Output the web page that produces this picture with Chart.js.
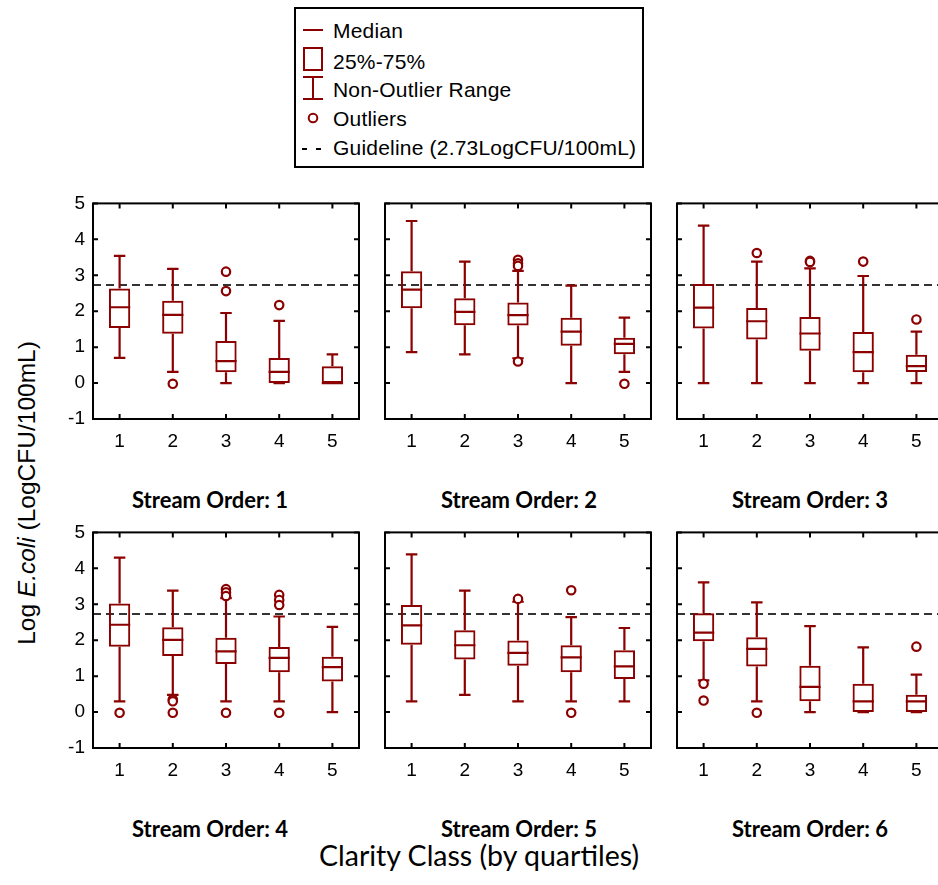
<!DOCTYPE html>
<html>
<head>
<meta charset="utf-8">
<script src="https://cdn.jsdelivr.net/npm/chart.js@4.4.0/dist/chart.umd.min.js"></script>
<style>
  html, body { margin: 0; padding: 0; background: #fff; width: 938px; height: 885px; overflow: hidden; position: relative; }
  canvas { position: absolute; }
  .t { position: absolute; white-space: nowrap; line-height: 1; color: #000; }
  .title { font-family: Lato, 'Open Sans', sans-serif; font-weight: bold; font-size: 22px; transform: translate(-50%, -50%); }
  .leg { font-family: 'Liberation Sans', Arial, sans-serif; font-size: 21px; transform: translate(0, -50%); letter-spacing: 0.2px; }
  #legendBox { position: absolute; left: 294px; top: 7px; width: 350px; height: 161px; border: 2px solid #000; box-sizing: border-box; }
  #xTitle { left: 479px; top: 855px; font-family: Lato, 'Open Sans', sans-serif; font-size: 28.5px; transform: translate(-50%, -50%); }
  #yTitle { left: 27px; top: 493px; font-family: 'Liberation Sans', Arial, sans-serif; font-size: 24.5px; transform: translate(-50%, -50%) rotate(-90deg); }
</style>
</head>
<body>

<div id="legendBox"></div>
<svg style="position:absolute;left:0;top:0" width="938" height="175">
  <g stroke="#8b0000" stroke-width="2" fill="none">
    <line x1="303" y1="30" x2="323" y2="30"/>
    <rect x="304" y="48" width="18" height="22"/>
    <line x1="303" y1="77" x2="323" y2="77"/>
    <line x1="313" y1="77" x2="313" y2="99"/>
    <line x1="303" y1="99" x2="323" y2="99"/>
    <circle cx="313" cy="118" r="4.3"/>
  </g>
  <g stroke="#000" stroke-width="2">
    <line x1="302" y1="149" x2="307" y2="149"/>
    <line x1="316" y1="149" x2="321" y2="149"/>
  </g>
</svg>
<div class="t leg" style="left:333px;top:30px">Median</div>
<div class="t leg" style="left:333px;top:61px">25%-75%</div>
<div class="t leg" style="left:333px;top:89px">Non-Outlier Range</div>
<div class="t leg" style="left:333px;top:118px">Outliers</div>
<div class="t leg" style="left:333px;top:147px">Guideline (2.73LogCFU/100mL)</div>

<div id="xTitle" class="t">Clarity Class (by quartiles)</div>
<div id="yTitle" class="t">Log <i>E.coli</i> (LogCFU/100mL)</div>

<script>
// clarity classes on every panel
const categories = ['1', '2', '3', '4', '5'];
const panelTitles = ['Stream Order: 1', 'Stream Order: 2', 'Stream Order: 3',
                     'Stream Order: 4', 'Stream Order: 5', 'Stream Order: 6'];
const guideline = 2.73;

// one row per stream order, one value per clarity class
const whiskerLow = [
  [0.70, 0.31, 0.00, 0.00, 0.00],
  [0.86, 0.80, 0.69, 0.00, 0.31],
  [0.00, 0.00, 0.00, 0.00, 0.00],
  [0.30, 0.48, 0.30, 0.30, 0.00],
  [0.30, 0.48, 0.30, 0.30, 0.30],
  [0.88, 0.30, 0.00, 0.00, 0.00]
];
const q1 = [
  [1.53, 1.37, 0.30, 0.00, 0.00],
  [2.08, 1.61, 1.60, 1.04, 0.80],
  [1.52, 1.21, 0.90, 0.30, 0.31],
  [1.82, 1.56, 1.34, 1.11, 0.85],
  [1.87, 1.46, 1.29, 1.11, 0.92],
  [1.97, 1.27, 0.30, 0.00, 0.00]
];
const medians = [
  [2.11, 1.90, 0.61, 0.31, 0.00],
  [2.60, 1.98, 1.89, 1.43, 1.09],
  [2.10, 1.72, 1.38, 0.86, 0.47],
  [2.43, 2.01, 1.69, 1.51, 1.25],
  [2.41, 1.86, 1.65, 1.52, 1.27],
  [2.21, 1.76, 0.70, 0.30, 0.30]
];
const q3 = [
  [2.63, 2.29, 1.17, 0.70, 0.47],
  [3.11, 2.36, 2.24, 1.82, 1.26],
  [2.76, 2.09, 1.84, 1.42, 0.79],
  [3.02, 2.36, 2.07, 1.81, 1.54],
  [2.98, 2.28, 1.99, 1.86, 1.72],
  [2.75, 2.08, 1.29, 0.79, 0.48]
];
const whiskerHigh = [
  [3.54, 3.18, 1.95, 1.73, 0.80],
  [4.51, 3.38, 3.12, 2.71, 1.82],
  [4.38, 3.38, 3.19, 2.98, 1.43],
  [4.30, 3.38, 3.17, 2.66, 2.37],
  [4.39, 3.38, 3.07, 2.64, 2.34],
  [3.61, 3.05, 2.39, 1.80, 1.04]
];
// [class, value]
const outliers = [
  [['2', -0.02], ['3', 3.10], ['3', 2.56], ['4', 2.17]],
  [['3', 3.43], ['3', 3.33], ['3', 3.26], ['3', 0.60], ['5', -0.02]],
  [['2', 3.62], ['3', 3.40], ['3', 3.37], ['4', 3.38], ['5', 1.77]],
  [['1', -0.02], ['2', 0.35], ['2', 0.30], ['2', -0.02], ['3', 3.42], ['3', 3.33], ['3', 3.23], ['3', -0.02],
   ['4', 3.26], ['4', 3.12], ['4', 2.98], ['4', -0.02]],
  [['3', 3.15], ['4', 3.39], ['4', -0.02]],
  [['1', 0.79], ['1', 0.32], ['2', -0.02], ['5', 1.82]]
];

// layout
const RED = '#8b0000';
const panelLeft = [93, 385, 677];
const panelTop = [203, 532];
const titleX = [210, 519, 810];
const titleY = [500, 829];
const PW = 266, PH = 216;
const padL = 50, padT = 14, padR = 8, padB = 40;
const tickFont = { family: "'Liberation Sans', Arial, sans-serif", size: 19 };

const boxPlot = {
  id: 'boxPlot',
  beforeDatasetsDraw(chart) {
    const { ctx, chartArea: a, scales: { y } } = chart;
    const py = y.getPixelForValue(guideline);
    ctx.save();
    ctx.strokeStyle = '#333';
    ctx.lineWidth = 2;
    ctx.setLineDash([8, 5]);
    ctx.beginPath();
    ctx.moveTo(a.left, py);
    ctx.lineTo(a.right, py);
    ctx.stroke();
    ctx.restore();
  },
  afterDatasetDraw(chart, args) {
    if (args.index !== 0) return;
    const p = chart.options.plugins.boxPlot.panel;
    const { ctx, scales: { y } } = chart;
    ctx.save();
    ctx.strokeStyle = RED;
    ctx.lineWidth = 2.2;
    chart.getDatasetMeta(0).data.forEach((bar, k) => {
      const x = bar.x, w = bar.width, cap = w * 0.27;
      const yHi = y.getPixelForValue(whiskerHigh[p][k]);
      const yLo = y.getPixelForValue(whiskerLow[p][k]);
      const yQ3 = y.getPixelForValue(q3[p][k]);
      const yQ1 = y.getPixelForValue(q1[p][k]);
      const yMed = y.getPixelForValue(medians[p][k]);
      ctx.beginPath();
      ctx.moveTo(x, yQ3); ctx.lineTo(x, yHi);
      ctx.moveTo(x - cap, yHi); ctx.lineTo(x + cap, yHi);
      ctx.moveTo(x, yQ1); ctx.lineTo(x, yLo);
      ctx.moveTo(x - cap, yLo); ctx.lineTo(x + cap, yLo);
      ctx.moveTo(x - w / 2, yMed); ctx.lineTo(x + w / 2, yMed);
      ctx.stroke();
    });
    ctx.restore();
  },
  afterDraw(chart) {
    const { ctx, chartArea: a, scales: { x, y } } = chart;
    ctx.save();
    ctx.strokeStyle = '#000';
    ctx.lineWidth = 2;
    ctx.strokeRect(a.left, a.top, a.right - a.left, a.bottom - a.top);
    ctx.beginPath();
    y.ticks.forEach((t, k) => {
      const py = y.getPixelForTick(k);
      ctx.moveTo(a.left, py); ctx.lineTo(a.left + 5, py);
      ctx.moveTo(a.right, py); ctx.lineTo(a.right - 5, py);
    });
    x.ticks.forEach((t, k) => {
      const px = x.getPixelForTick(k);
      ctx.moveTo(px, a.top); ctx.lineTo(px, a.top + 5);
      ctx.moveTo(px, a.bottom); ctx.lineTo(px, a.bottom - 5);
    });
    ctx.stroke();
    ctx.restore();
  }
};

function makePanel(i) {
  const col = i % 3, row = Math.floor(i / 3);
  const canvas = document.createElement('canvas');
  canvas.width = PW + padL + padR;
  canvas.height = PH + padT + padB;
  document.body.appendChild(canvas);

  const title = document.createElement('div');
  title.className = 't title';
  title.textContent = panelTitles[i];
  title.style.left = titleX[col] + 'px';
  title.style.top = titleY[row] + 'px';
  document.body.appendChild(title);

  const chart = new Chart(canvas, {
    data: {
      labels: categories,
      datasets: [
        {
          type: 'bar',
          data: categories.map((c, k) => [q1[i][k], q3[i][k]]),
          backgroundColor: 'rgba(255,255,255,0)',
          borderColor: RED,
          borderWidth: 2,
          borderSkipped: false,
          barPercentage: 0.4,
          categoryPercentage: 1,
          order: 2
        },
        {
          type: 'line',
          data: outliers[i].map(o => ({ x: o[0], y: o[1] })),
          showLine: false,
          pointRadius: 4.2,
          pointBorderWidth: 2.2,
          pointBorderColor: RED,
          pointBackgroundColor: '#fff',
          order: 1
        }
      ]
    },
    options: {
      responsive: false,
      maintainAspectRatio: false,
      devicePixelRatio: 1,
      animation: false,
      layout: { padding: { top: padT, right: padR, left: 0, bottom: 0 } },
      plugins: { legend: { display: false }, tooltip: { enabled: false }, boxPlot: { panel: i } },
      scales: {
        x: {
          type: 'category',
          offset: true,
          grid: { display: false, drawTicks: false },
          border: { display: false },
          ticks: { color: '#000', font: tickFont, padding: 11, maxRotation: 0 },
          afterFit: s => { s.height = padB; }
        },
        y: {
          type: 'linear',
          min: -1,
          max: 5,
          grid: { display: false, drawTicks: false },
          border: { display: false },
          ticks: { stepSize: 1, color: col === 0 ? '#000' : 'rgba(0,0,0,0)', font: tickFont, padding: 8 },
          afterFit: s => { s.width = padL; }
        }
      }
    },
    plugins: [boxPlot]
  });

  // make the plot area exactly PW x PH, then line it up with the panel grid
  let a = chart.chartArea;
  const dw = PW - (a.right - a.left), dh = PH - (a.bottom - a.top);
  if (Math.abs(dw) > 0.5 || Math.abs(dh) > 0.5) {
    chart.resize(Math.round(canvas.width + dw), Math.round(canvas.height + dh));
    a = chart.chartArea;
  }
  canvas.style.left = (panelLeft[col] - a.left) + 'px';
  canvas.style.top = (panelTop[row] - a.top) + 'px';
}

for (let i = 0; i < 6; i++) makePanel(i);
</script>
</body>
</html>
